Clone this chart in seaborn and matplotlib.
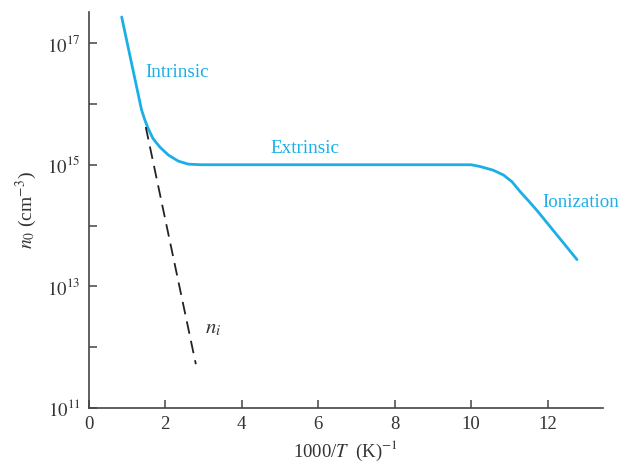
import numpy as np
import pandas as pd
import matplotlib
matplotlib.use("Agg")
import matplotlib.pyplot as plt
import seaborn as sns

# Data (x = 1000/T, exponent of n0 in cm^-3)
blue_x = [0.86, 1.38, 1.47, 1.55, 1.68, 1.86, 2.08, 2.34, 2.60, 2.95,
          10.0, 10.24, 10.58, 10.85, 11.07, 11.28, 11.54, 11.76, 12.77]
blue_exp = [17.43, 15.90, 15.73, 15.60, 15.43, 15.29, 15.16, 15.06, 15.01, 15.0,
            15.0, 14.97, 14.91, 14.83, 14.72, 14.56, 14.38, 14.22, 13.44]
ni_x = [1.49, 2.80]
ni_exp = [15.62, 11.72]

xticks = [0, 2, 4, 6, 8, 10, 12]
yticks_major = [11, 13, 15, 17]
yticks_minor = [12, 14, 16]

BLUE = "#1aafe6"
GRAY = "#444444"

sns.set_style("ticks")
plt.rcParams["font.family"] = ["Liberation Serif", "DejaVu Serif"]
plt.rcParams["mathtext.fontset"] = "stix"

fig = plt.figure(figsize=(6.21, 4.66), dpi=100)
ax = fig.add_axes([0.143, 0.1245, 0.828, 0.8495])

df_blue = pd.DataFrame({"x": blue_x, "n": [10.0 ** e for e in blue_exp]})
df_ni = pd.DataFrame({"x": ni_x, "n": [10.0 ** e for e in ni_exp]})

sns.lineplot(data=df_blue, x="x", y="n", ax=ax, sort=False, estimator=None,
             color=BLUE, linewidth=2.0)
sns.lineplot(data=df_ni, x="x", y="n", ax=ax, sort=False, estimator=None,
             color="#222222", linewidth=1.3, dashes=False)
ax.lines[-1].set_dashes([7, 4])
ax.lines[0].set_solid_joinstyle("round")

ax.set_yscale("log")
ax.set_xlim(0, 13.45)
ax.set_ylim(1e11, 10 ** 17.51)

ax.set_xticks(xticks)
ax.set_xticklabels([str(t) for t in xticks])
ax.set_yticks([10.0 ** e for e in yticks_major])
ax.set_yticklabels([f"$10^{{{e}}}$" for e in yticks_major])
ax.set_yticks([10.0 ** e for e in yticks_minor], minor=True)
ax.set_yticklabels([], minor=True)

for s in ["top", "right"]:
    ax.spines[s].set_visible(False)
for s in ["left", "bottom"]:
    ax.spines[s].set_color(GRAY)
    ax.spines[s].set_linewidth(1.2)

ax.tick_params(axis="both", which="both", direction="in", length=6, width=1.1,
               color=GRAY, labelsize=13.5, labelcolor="#333333", pad=6)

ax.set_xlabel("1000/$T$  (K)$^{-1}$", fontsize=13.5, color="#333333", labelpad=4)
ax.set_ylabel("$n_0$ (cm$^{-3}$)", fontsize=14, color="#333333", labelpad=6)

ax.text(1.47, 10 ** 16.51, "Intrinsic", color=BLUE, fontsize=13.8, va="center", ha="left")
ax.text(4.74, 10 ** 15.27, "Extrinsic", color=BLUE, fontsize=13.8, va="center", ha="left")
ax.text(11.86, 10 ** 14.38, "Ionization", color=BLUE, fontsize=13.6, va="center", ha="left")
ax.text(3.04, 10 ** 12.31, "$n_i$", color="#333333", fontsize=15, va="center", ha="left")

fig.savefig("out.png", dpi=100)
